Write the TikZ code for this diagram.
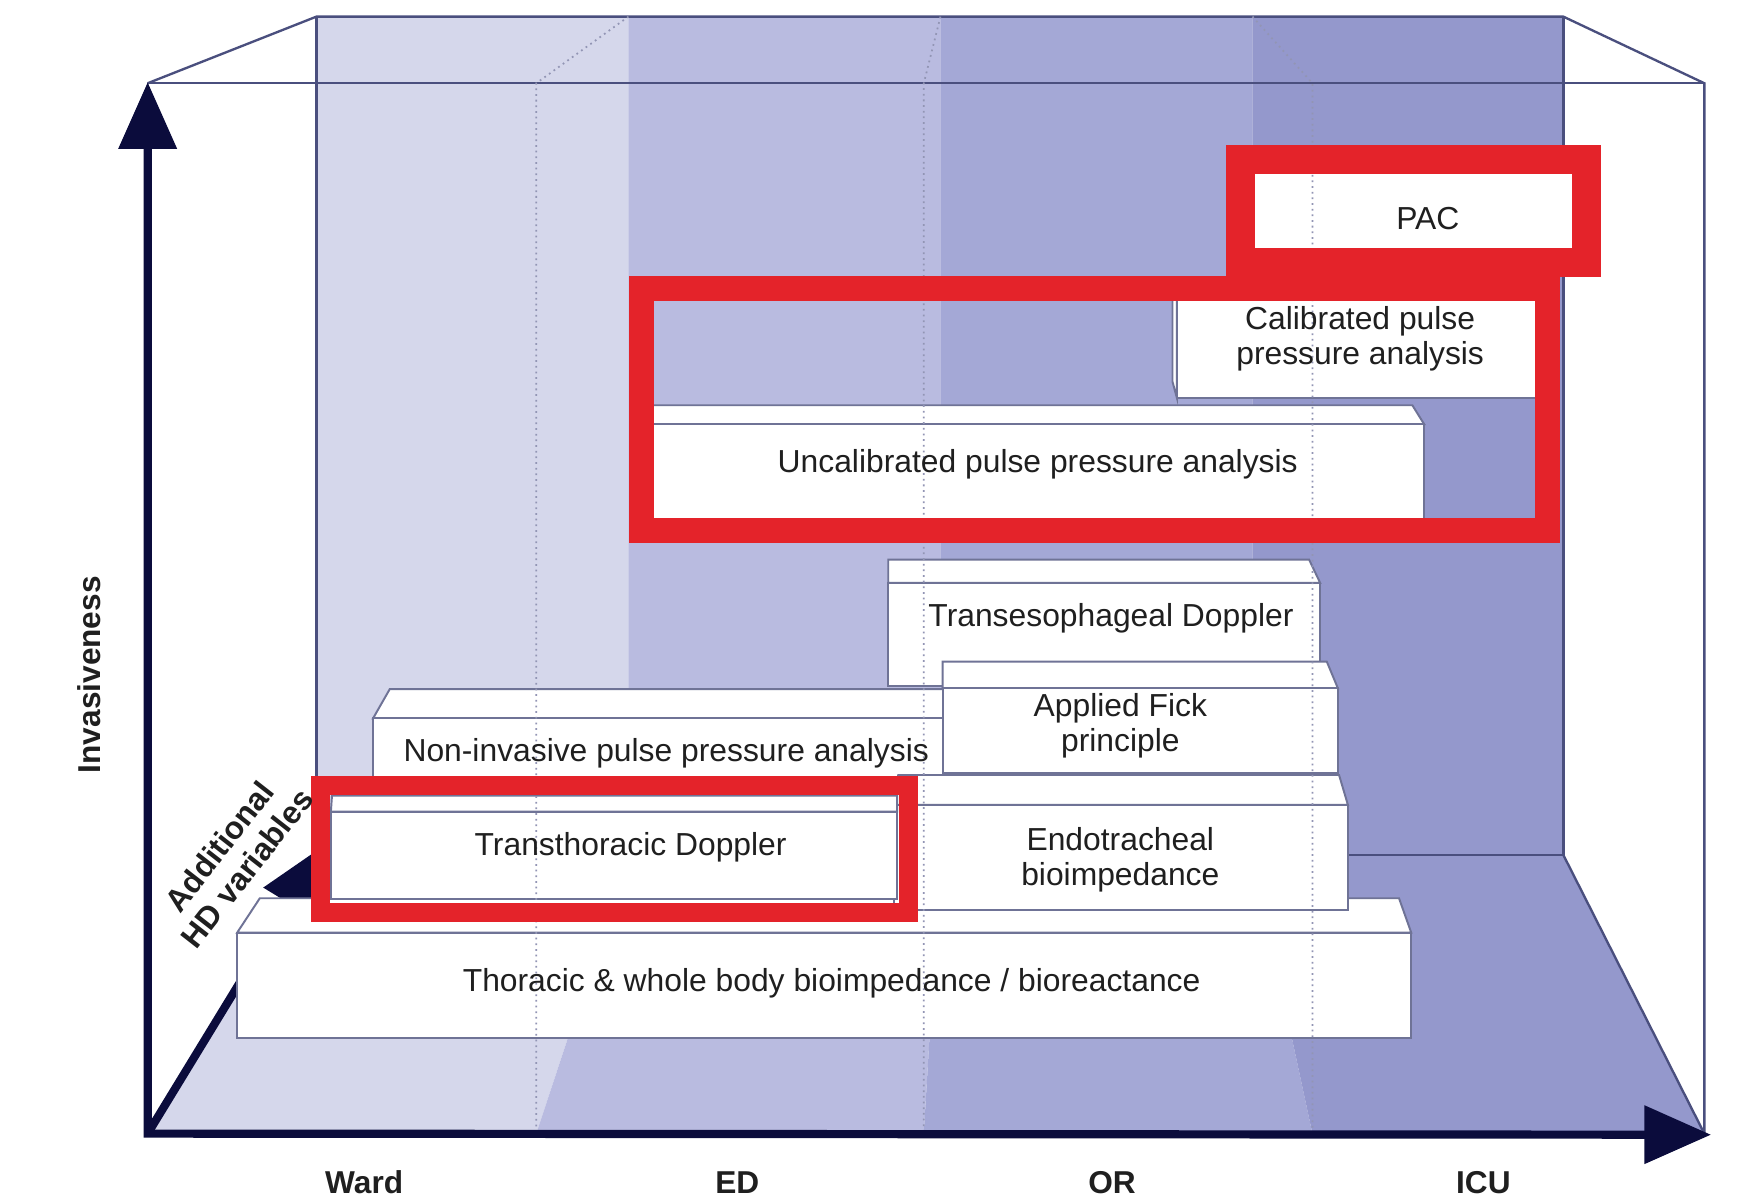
\documentclass[tikz,border=0pt]{standalone}
\usepackage{fontspec}
\setmainfont{Liberation Sans}
\usepackage{xcolor}
\usepackage{tikz}
\usetikzlibrary{arrows.meta, positioning}

\definecolor{wardc}{HTML}{D5D7EB}
\definecolor{edc}{HTML}{B9BBE0}
\definecolor{orc}{HTML}{A4A8D6}
\definecolor{icuc}{HTML}{9498CC}
\definecolor{axisnavy}{HTML}{0B0C3C}
\definecolor{edgenavy}{HTML}{4A4F7E}
\definecolor{blockline}{HTML}{6F7396}
\definecolor{divgray}{HTML}{9295B4}
\definecolor{markred}{HTML}{E4232A}

\begin{document}
\begin{tikzpicture}[
        x=0.01cm, y=0.01cm,
        boxedge/.style={draw=edgenavy, line width=0.6pt},
        frontdiv/.style={draw=divgray, densely dotted, line width=0.45pt},
        axisline/.style={draw=axisnavy, line width=2.1pt},
        techface/.style={fill=white, draw=blockline, line width=0.5pt},
        techtext/.style={font=\fontsize{8.15}{9}\selectfont, text=black!88, align=center, inner sep=0pt},
        redmark/.style={draw=markred, line width=#1},
        zonelabel/.style={font=\bfseries\fontsize{8.1}{9}\selectfont, text=black!88, align=center, inner sep=0pt},
    ]
        \useasboundingbox (0,0) rectangle (1568,1080);
        \coordinate (origin) at (133,59);
        \coordinate (ftl) at (133,1005);
        \coordinate (ftr) at (1535,1005);
        \coordinate (fbr) at (1535,59);
        \coordinate (btl) at (285,1065);
        \coordinate (btr) at (1408,1065);
        \coordinate (bbl) at (285,310);
        \coordinate (bbr) at (1408,310);
        \coordinate (vtip) at (133,1006);
        \coordinate (htip) at (1541,58);
        \coordinate (hdtip) at (291,318);

        \fill[wardc] (origin) -- (bbl) -- (btl) -- (566,1065) -- (566,310) -- (483,59) -- cycle;
        \fill[edc] (483,59) -- (566,310) -- (566,1065) -- (847,1065) -- (847,310) -- (832,59) -- cycle;
        \fill[orc] (832,59) -- (847,310) -- (847,1065) -- (1128,1065) -- (1128,310) -- (1182,59) -- cycle;
        \fill[icuc] (1182,59) -- (1128,310) -- (1128,1065) -- (btr) -- (bbr) -- (fbr) -- cycle;

        \draw[boxedge] (btl) -- (bbl) -- (bbr) -- (btr);
        \draw[boxedge] (ftl) -- (btl) -- (btr) -- (ftr) -- (fbr);
        \draw[boxedge] (bbr) -- (fbr);
        \draw[boxedge] (ftl) -- (ftr);

        \draw[axisline, -{Triangle[length=6mm, width=5.1mm]}] (origin) -- (hdtip);

        \filldraw[techface] (1056,818) -- (1056,736.2) -- (1060,721.4) -- (1060,818) -- cycle;
        \filldraw[techface] (1060,721.4) rectangle (1392,818);
        \filldraw[techface] (587,698) -- (587,715) -- (1272,715) -- (1282.6,698) -- cycle;
        \filldraw[techface] (587,608) rectangle (1282.6,698);
        \filldraw[techface] (800,555) -- (800,576) -- (1179,576) -- (1189,555) -- cycle;
        \filldraw[techface] (800,462) rectangle (1189,555);
        \filldraw[techface] (336,433) -- (351,459.3) -- (860,459.3) -- (860,433) -- cycle;
        \filldraw[techface] (336,372) rectangle (860,433);
        \filldraw[techface] (849,460) -- (849,484) -- (1195,484) -- (1205,460) -- cycle;
        \filldraw[techface] (849,384) rectangle (1205,460);
        \filldraw[techface] (213.6,240) -- (234,271) -- (1260,271) -- (1271,240) -- cycle;
        \filldraw[techface] (213.6,145) rectangle (1271,240);
        \filldraw[techface] (805,355) -- (809,382) -- (1206,382) -- (1214,355) -- cycle;
        \filldraw[techface] (805,260) rectangle (1214,355);
        \filldraw[techface] (298,349) -- (299,363.3) -- (808,363.3) -- (808,349) -- cycle;
        \filldraw[techface] (298,270) rectangle (808,349);
        \fill[white] (1125,850) rectangle (1420,930);

        \draw[frontdiv] (566,1065) -- (483,1005) -- (483,59);
        \draw[frontdiv] (847,1065) -- (832,1005) -- (832,59);
        \draw[frontdiv] (1128,1065) -- (1182,1005) -- (1182,59);

        \draw[axisline, {Triangle[length=6mm, width=5.1mm]}-{Triangle[length=6mm, width=5.1mm]}] (vtip) -- (origin) -- (htip);

        \draw[redmark=0.175cm] (288.5,372.5) rectangle (818,258);
        \draw[redmark=0.225cm] (578,820.3) rectangle (1393.5,602.6);
        \draw[redmark=0.26cm] (1117,936.4) rectangle (1429,843.7);

        \node[techtext] (pac) at (1286,883.4) {PAC};
        \node[techtext] (calib) at (1225,775) {Calibrated pulse\\pressure analysis};
        \node[techtext] (uncal) at (934.6,662) {Uncalibrated pulse pressure analysis};
        \node[techtext] (trans) at (1000.6,523) {Transesophageal Doppler};
        \node[techtext] (fick) at (1009,426.5) {Applied Fick\\principle};
        \node[techtext] (nipp) at (600,402) {Non-invasive pulse pressure analysis};
        \node[techtext] (endo) at (1009,306) {Endotracheal\\bioimpedance};
        \node[techtext] (trth) at (568,317) {Transthoracic Doppler};
        \node[techtext] (thor) at (749,194) {Thoracic \& whole body bioimpedance / bioreactance};

        \node[zonelabel, rotate=90] (invas) at (80,472.3) {Invasiveness};
        \node[zonelabel, rotate=52] (hdvar) at (210,308) {Additional\\HD variables};
        \node[zonelabel] (ward) at (328,15) {Ward};
        \node[zonelabel] (ed) at (664,15) {ED};
        \node[zonelabel] (orlbl) at (1001.6,15) {OR};
        \node[zonelabel] (icu) at (1336,15) {ICU};
\end{tikzpicture}
\end{document}
